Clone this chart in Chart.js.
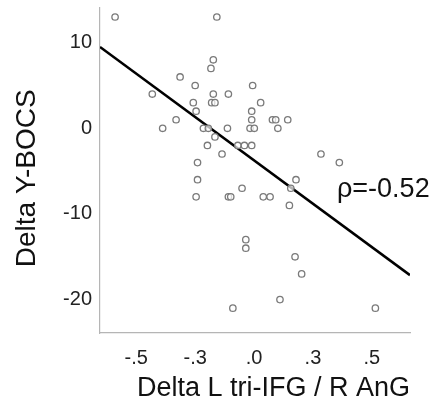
<!DOCTYPE html>
<html>
<head>
<meta charset="utf-8">
<title>Delta Y-BOCS vs Delta L tri-IFG / R AnG</title>
<script src="https://cdn.jsdelivr.net/npm/chart.js@4.4.1/dist/chart.umd.min.js"></script>
<style>
  html, body { margin: 0; padding: 0; background: #fff; }
  #wrap { width: 448px; height: 407px; position: relative; }
</style>
</head>
<body>
<div id="wrap"><canvas id="scatterChart"></canvas></div>
<script>
// connectivity change (x) and symptom change (y), one entry per patient
const connChange = [
  -0.590, -0.158, -0.173, -0.183, -0.314, -0.250, -0.006, -0.432, -0.173, -0.109,
  -0.258, -0.180, -0.166, 0.028, -0.246, -0.010, -0.331, -0.010, 0.078, 0.092,
  0.143, -0.388, -0.215, -0.194, -0.113, -0.017, 0.001, 0.101, -0.166, -0.198,
  -0.069, -0.041, -0.010, -0.136, 0.284, -0.240, 0.362, -0.240, 0.178, -0.051,
  0.156, -0.246, -0.109, -0.099, 0.039, 0.068, 0.150, -0.035, -0.035, 0.174,
  0.202, 0.110, -0.090, 0.515,
];
const ybocsChange = [
  13, 13, 8, 7, 6, 5, 5, 4, 4, 4,
  3, 3, 3, 3, 2, 2, 1, 1, 1, 1,
  1, 0, 0, 0, 0, 0, 0, 0, -1, -2,
  -2, -2, -2, -3, -3, -4, -4, -6, -6, -7,
  -7, -8, -8, -8, -8, -8, -9, -13, -14, -15,
  -17, -20, -21, -21,
];

// fitted regression line, drawn across the whole x range
const fitX = [-0.654, 0.662];
const fitY = [9.5, -17.14];

const xTicks = [-0.5, -0.25, 0, 0.25, 0.5];
const xTickLabels = ["-.5", "-.3", ".0", ".3", ".5"];
const yTicks = [-20, -10, 0, 10];

const rhoText = "ρ=-0.52";
const rhoAt = { x: 0.352, y: -7.2 };

const points = connChange.map((x, i) => ({ x, y: ybocsChange[i] }));
const fitLine = fitX.map((x, i) => ({ x, y: fitY[i] }));

const rhoLabel = {
  id: "rhoLabel",
  afterDatasetsDraw(chart) {
    const { ctx, scales } = chart;
    ctx.save();
    ctx.font = '27px "Liberation Sans", Arial, sans-serif';
    ctx.fillStyle = "#111";
    ctx.textAlign = "left";
    ctx.textBaseline = "middle";
    ctx.fillText(rhoText, scales.x.getPixelForValue(rhoAt.x), scales.y.getPixelForValue(rhoAt.y));
    ctx.restore();
  },
};

new Chart(document.getElementById("scatterChart"), {
  type: "scatter",
  data: {
    datasets: [
      {
        label: "Patients",
        data: points,
        pointRadius: 3.2,
        pointBorderWidth: 1.3,
        pointBorderColor: "#7a7a7a",
        pointBackgroundColor: "rgba(255,255,255,0.7)",
      },
      {
        label: "Fit",
        data: fitLine,
        showLine: true,
        borderColor: "#000",
        borderWidth: 2.6,
        pointRadius: 0,
      },
    ],
  },
  options: {
    responsive: true,
    maintainAspectRatio: false,
    animation: false,
    devicePixelRatio: 1,
    layout: { padding: { top: 8, right: 38, left: 0, bottom: 0 } },
    plugins: {
      legend: { display: false },
      tooltip: { enabled: false },
    },
    scales: {
      x: {
        min: -0.654,
        max: 0.662,
        afterBuildTicks: (scale) => {
          scale.ticks = xTicks.map((value) => ({ value }));
        },
        afterFit: (scale) => {
          scale.height = 74;
        },
        ticks: {
          autoSkip: false,
          maxRotation: 0,
          padding: 13,
          color: "#222",
          font: { family: '"Liberation Sans", Arial, sans-serif', size: 20 },
          callback: (value) => xTickLabels[xTicks.indexOf(value)],
        },
        grid: { display: false, drawTicks: false },
        border: { display: true, color: "#b5b5b5", width: 1.2 },
        title: {
          display: true,
          text: "Delta L tri-IFG / R AnG",
          align: "end",
          color: "#111",
          padding: { top: 0, bottom: 2 },
          font: { family: '"Liberation Sans", Arial, sans-serif', size: 27 },
        },
      },
      y: {
        min: -23.9,
        max: 14.05,
        afterBuildTicks: (scale) => {
          scale.ticks = yTicks.map((value) => ({ value }));
        },
        afterFit: (scale) => {
          scale.width = 100;
          scale.paddingTop = 0;
          scale.paddingBottom = 0;
        },
        ticks: {
          autoSkip: false,
          padding: 8,
          color: "#222",
          font: { family: '"Liberation Sans", Arial, sans-serif', size: 20 },
        },
        grid: { display: false, drawTicks: false },
        border: { display: true, color: "#b5b5b5", width: 1.2 },
        title: {
          display: true,
          text: "Delta Y-BOCS  ",
          color: "#111",
          padding: { top: 10, bottom: 0 },
          font: { family: '"Liberation Sans", Arial, sans-serif', size: 28 },
        },
      },
    },
  },
  plugins: [rhoLabel],
});
</script>
</body>
</html>
